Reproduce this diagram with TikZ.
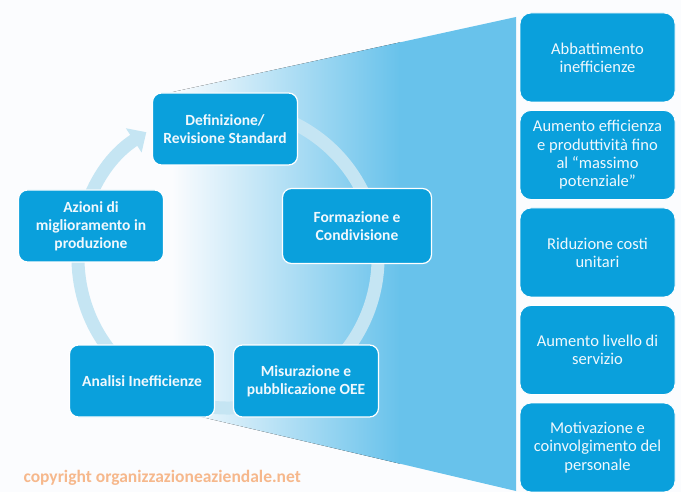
\documentclass[tikz,border=0pt]{standalone}
\usepackage{fontspec}
\setmainfont{Carlito}
\usepackage{tikz}
\usetikzlibrary{positioning, arrows.meta, calc}
\definecolor{cBg}{RGB}{251,252,254}
\definecolor{cBox}{RGB}{10,160,220}
\definecolor{cFunnel}{RGB}{104,194,235}
\definecolor{cRing}{RGB}{197,229,243}
\definecolor{cTxt}{RGB}{240,248,253}
\definecolor{cCopy}{RGB}{246,184,140}

\begin{document}
\begin{tikzpicture}[x=1pt, y=1pt, node distance=97.5pt, on grid,
    cyclebox/.style={rounded corners=9pt, fill=cBox, draw=white, line width=1.2pt,
        minimum width=145pt, minimum height=72pt, align=center, text=cTxt,
        font=\bfseries\fontsize{15.5}{18}\selectfont},
    resultbox/.style={rounded corners=11pt, fill=cBox, draw=white, line width=0.8pt,
        minimum width=155pt, minimum height=89pt, align=center, text=cTxt,
        font=\fontsize{16.5}{18.3}\selectfont}]
    \useasboundingbox (0,0) rectangle (681,-492);
    \fill[cBg] (0,0) rectangle (681,-492);

    % Funnel towards the results
    \begin{scope}
        \clip (150,-97) -- (516,-17) -- (516,-491) -- (155,-406) -- cycle;
        \fill[left color=cBg, right color=cFunnel] (172,0) rectangle (400,-492);
        \fill[cFunnel] (399,0) rectangle (520,-492);
    \end{scope}

    % Improvement cycle ring
    \coordinate (ctr) at (228,-258);
    \draw[cRing, line width=13pt, -{Triangle[width=28pt, length=15pt]}]
        ($(ctr)+(100:150)$) arc[start angle=100, end angle=-237, radius=150];

    % Cycle steps
    \node[cyclebox] (def) at (225,-129) {Definizione/\\Revisione Standard};
    \node[cyclebox, minimum width=149pt, minimum height=75pt] (form) at (357,-226) {Formazione e\\Condivisione};
    \node[cyclebox] (mis) at (306,-381) {Misurazione e\\pubblicazione OEE};
    \node[cyclebox] (anal) at (142,-381) {Analisi Inefficienze};
    \node[cyclebox] (az) at (91,-226) {Azioni di\\miglioramento in\\produzione};

    % Results column
    \node[resultbox] (r1) at (597.5,-57.5) {Abbattimento\\inefficienze};
    \node[resultbox] (r2) [below=of r1] {Aumento efficienza\\e produttività fino\\al ``massimo\\potenziale''};
    \node[resultbox] (r3) [below=of r2] {Riduzione costi\\unitari};
    \node[resultbox] (r4) [below=of r3] {Aumento livello di\\servizio};
    \node[resultbox] (r5) [below=of r4] {Motivazione e\\coinvolgimento del\\personale};

    % Watermark
    \node[anchor=west, text=cCopy, font=\bfseries\fontsize{17.5}{19}\selectfont] (copy) at (20,-478)
        {copyright organizzazioneaziendale.net};
\end{tikzpicture}
\end{document}
